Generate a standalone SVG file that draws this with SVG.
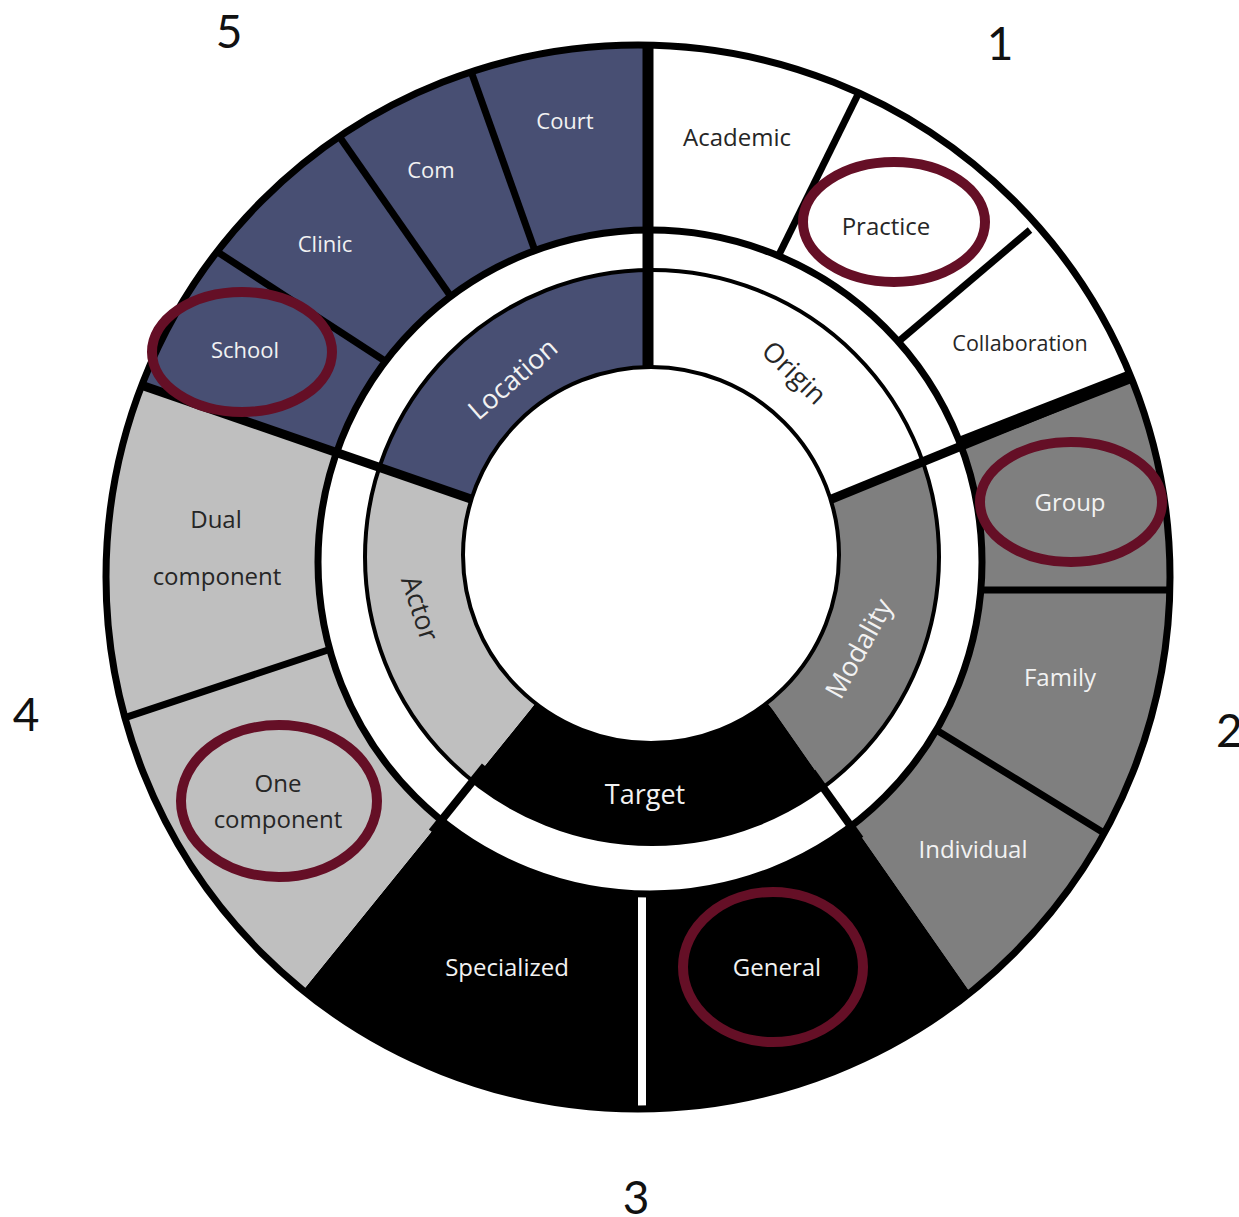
<svg xmlns="http://www.w3.org/2000/svg" width="1239" height="1217" viewBox="0 0 1239 1217">
<style>
.lbl{font-family:"Open Sans","Liberation Sans",sans-serif;text-anchor:middle;dominant-baseline:central;font-size:24px}
.w{fill:#f2f2f2}
.d{fill:#262626}
.mid{font-size:27px}
.num{font-family:Lato,"Liberation Sans",sans-serif;font-size:46px;fill:#111}
.sep{stroke:#000;stroke-width:7;fill:none}
.hl{fill:none;stroke:#650f26;stroke-width:10}
.loc{fill:#484f73}
.ori{fill:#ffffff}
.mod{fill:#7f7f7f}
.tar{fill:#000000}
.act{fill:#bfbfbf}
</style>
<defs>
<clipPath id="outerClip"><circle cx="638" cy="577" r="532"/></clipPath>
<clipPath id="midClip"><circle cx="652" cy="557" r="287"/></clipPath>
<polygon id="p-loc" points="651,557 473,500 -177,276 -177,-200 648,-200 648,367"/>
<polygon id="p-ori" points="651,557 648,367 648,-200 1423,-200 1423,257 837,497"/>
<polygon id="p-mod" points="651,557 837,497 1423,257 1423,1260 1157,1260 773,710"/>
<polygon id="p-tar" points="651,557 773,710 1157,1260 88,1256 530,710"/>
<polygon id="p-act" points="651,557 530,710 88,1256 -200,1256 -200,276 -177,276 473,500"/>
</defs>
<rect width="1239" height="1217" fill="#ffffff"/>

<!-- outer ring -->
<g id="outer-ring" clip-path="url(#outerClip)">
  <g id="seg-location-outer"><use href="#p-loc" class="loc"/></g>
  <g id="seg-origin-outer"><use href="#p-ori" class="ori"/></g>
  <g id="seg-modality-outer"><use href="#p-mod" class="mod"/></g>
  <g id="seg-target-outer"><use href="#p-tar" class="tar"/></g>
  <g id="seg-actor-outer"><use href="#p-act" class="act"/></g>
  <g id="outer-dividers">
    <line class="sep" x1="462" y1="46" x2="545" y2="279"/>
    <line class="sep" x1="325" y1="116" x2="470" y2="324"/>
    <line class="sep" x1="193" y1="236" x2="408" y2="376"/>
    <line class="sep" x1="870" y1="70" x2="767" y2="279"/>
    <line class="sep" x1="1030" y1="230" x2="885" y2="353"/>
    <line class="sep" x1="960" y1="590" x2="1190" y2="590"/>
    <line class="sep" x1="920" y1="720" x2="1130" y2="849"/>
    <line class="sep" x1="100" y1="726" x2="355" y2="641"/>
    <line class="sep" x1="940" y1="451" x2="1150" y2="369" style="stroke-width:13"/>
    <line x1="642" y1="880" x2="642" y2="1120" stroke="#ffffff" stroke-width="8"/>
  </g>
</g>

<!-- gap -->
<circle id="gap" cx="650" cy="562" r="332" fill="#ffffff" stroke="#000" stroke-width="7"/>

<!-- middle ring -->
<g id="middle-ring" clip-path="url(#midClip)">
  <use href="#p-loc" class="loc"/>
  <use href="#p-ori" class="ori"/>
  <use href="#p-mod" class="mod"/>
  <use href="#p-tar" class="tar"/>
  <use href="#p-act" class="act"/>
</g>
<circle cx="652" cy="557" r="287" fill="none" stroke="#000" stroke-width="4"/>

<!-- connectors: radial dividers -->
<g id="connectors" clip-path="url(#outerClip)">
  <line class="sep" x1="648" y1="40" x2="648" y2="420" style="stroke-width:11"/>
  <line class="sep" x1="138" y1="384" x2="520" y2="516" style="stroke-width:9"/>
  <line class="sep" x1="800" y1="512" x2="1133" y2="376" style="stroke-width:9"/>
  <line class="sep" x1="812" y1="772" x2="860" y2="839" style="stroke-width:8"/>
  <line class="sep" x1="485" y1="766" x2="432" y2="832" style="stroke-width:8"/>
</g>

<!-- hole -->
<circle id="hole" cx="651" cy="555" r="188" fill="#ffffff" stroke="#000" stroke-width="4"/>
<circle cx="638" cy="577" r="532" fill="none" stroke="#000" stroke-width="7"/>

<!-- category nodes (middle ring) -->
<g id="node-location"><text class="lbl w mid" transform="translate(512,378) rotate(-41)">Location</text></g>
<g id="node-origin"><text class="lbl d mid" transform="translate(795,372) rotate(44)">Origin</text></g>
<g id="node-modality"><text class="lbl w mid" transform="translate(858,648) rotate(-61)">Modality</text></g>
<g id="node-target"><text class="lbl w mid" x="645" y="793">Target</text></g>
<g id="node-actor"><text class="lbl d mid" transform="translate(421,608) rotate(72)">Actor</text></g>

<!-- outer nodes -->
<g id="node-court"><text class="lbl w" x="565" y="120" style="font-size:22px">Court</text></g>
<g id="node-com"><text class="lbl w" x="431" y="169" style="font-size:22px">Com</text></g>
<g id="node-clinic"><text class="lbl w" x="325" y="243" style="font-size:22px">Clinic</text></g>
<g id="node-school"><text class="lbl w" x="245" y="349" style="font-size:22px">School</text><ellipse class="hl" cx="242" cy="352" rx="90" ry="60"/></g>
<g id="node-academic"><text class="lbl d" x="737" y="136">Academic</text></g>
<g id="node-practice"><text class="lbl d" x="886" y="225">Practice</text><ellipse class="hl" cx="894" cy="222" rx="91" ry="60"/></g>
<g id="node-collaboration"><text class="lbl d" x="1020" y="342" style="font-size:21.5px">Collaboration</text></g>
<g id="node-group"><text class="lbl w" x="1070" y="501">Group</text><ellipse class="hl" cx="1071" cy="502" rx="91" ry="60"/></g>
<g id="node-family"><text class="lbl w" x="1060" y="676">Family</text></g>
<g id="node-individual"><text class="lbl w" x="973" y="848">Individual</text></g>
<g id="node-general"><text class="lbl w" x="777" y="966">General</text><ellipse class="hl" cx="773" cy="967" rx="90" ry="75"/></g>
<g id="node-specialized"><text class="lbl w" x="507" y="966">Specialized</text></g>
<g id="node-one"><text class="lbl d" x="278" y="782">One</text><text class="lbl d" x="278" y="818">component</text><ellipse class="hl" cx="279" cy="801" rx="98" ry="76"/></g>
<g id="node-dual"><text class="lbl d" x="216" y="518">Dual</text><text class="lbl d" x="217" y="575">component</text></g>

<!-- numbers -->
<g id="numbers">
  <text class="num" x="229" y="48" text-anchor="middle">5</text>
  <text class="num" x="1000" y="60" text-anchor="middle">1</text>
  <text class="num" x="1216" y="747">2</text>
  <text class="num" x="636" y="1214" text-anchor="middle">3</text>
  <text class="num" x="26" y="731" text-anchor="middle">4</text>
</g>
</svg>
